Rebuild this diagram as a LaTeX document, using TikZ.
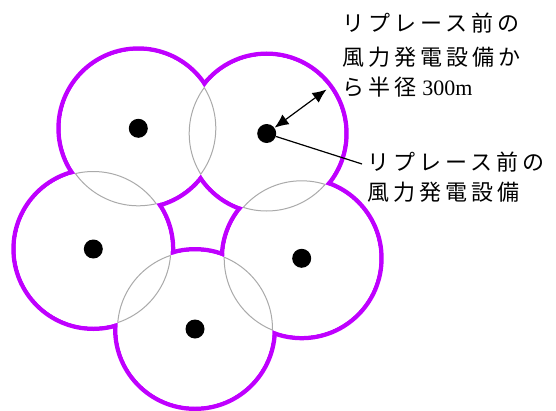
\documentclass[tikz,border=0pt]{standalone}
\usepackage{fontspec}
\newfontfamily\jpfont[LetterSpace=18.5]{Noto Sans CJK JP}
\newfontfamily\latfont{Liberation Serif}
\usetikzlibrary{arrows.meta}
\definecolor{ringpurple}{RGB}{191,0,255}
\definecolor{ringgray}{RGB}{170,170,170}
\begin{document}
\begin{tikzpicture}[x=0.75pt,y=-0.75pt,
  dot/.style={circle,fill=black,inner sep=0pt,minimum size=14.25pt},
  lbl/.style={inner sep=0pt,anchor=base west,font=\jpfont\fontsize{16.5pt}{20pt}\selectfont},
  tipstyle/.style={line width=0.9pt},
  purplering/.style={ringpurple,line width=3.375pt},
  grayring/.style={ringgray,line width=0.75pt}]
\useasboundingbox (0,0) rectangle (556,410);
\def\R{77.5}
\coordinate (c1) at (138.3,128.3);
\coordinate (c2) at (266.7,133.5);
\coordinate (c3) at (93.3,249);
\coordinate (c4) at (301.7,258.3);
\coordinate (c5) at (195,329);
% purple outline of the union
\foreach \n in {1,...,5} \draw[purplering] (c\n) circle[radius=\R+2.25];
\foreach \n in {1,...,5} \fill[white] (c\n) circle[radius=\R];
% gray arcs inside neighbouring circles
\foreach \i in {1,...,5}{\foreach \j in {1,...,5}{%
  \ifnum\i=\j\relax\else
  \begin{scope}
    \clip (c\j) circle[radius=\R];
    \draw[grayring] (c\i) circle[radius=\R];
  \end{scope}
  \fi}}
% turbine dots
\node[dot] (d1) at (c1) {};
\node[dot] (d2) at (c2) {};
\node[dot] (d3) at (c3) {};
\node[dot] (d4) at (c4) {};
\node[dot] (d5) at (c5) {};
% radius arrow and leader
\coordinate (tip) at (326.5,89.5);
\coordinate (lead) at (362,164);
\draw[tipstyle,{Latex[length=10.5pt,width=9pt]}-{Latex[length=10.5pt,width=9pt]}] (d2) -- (tip);
\draw[tipstyle] (d2) -- (lead);
% labels
\node[lbl] (t1) at (342,32) {リプレース前の};
\node[lbl] (t2) at (342,65.5) {風力発電設備か};
\node[lbl] (t3) at (342,95.5) {ら半径\kern4.5pt{\latfont 300m}};
\node[lbl] (t4) at (367,170.5) {リプレース前の};
\node[lbl] (t5) at (367,200.5) {風力発電設備};
\end{tikzpicture}
\end{document}
